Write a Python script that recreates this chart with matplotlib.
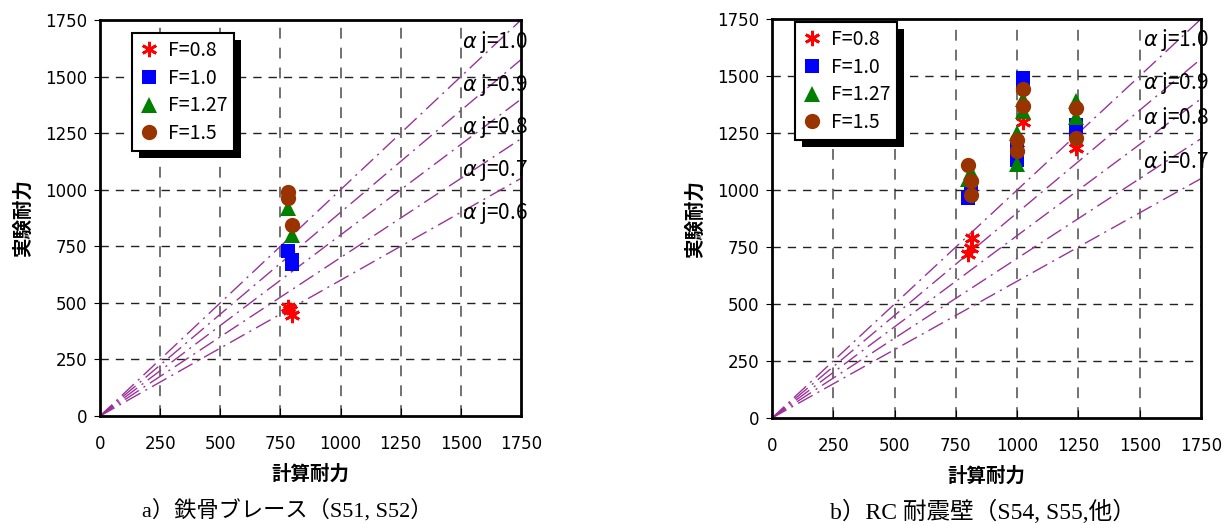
import numpy as np
import matplotlib.pyplot as plt
from matplotlib.patches import Rectangle
from matplotlib.transforms import IdentityTransform

plt.rcParams['font.family'] = ['Noto Sans CJK JP', 'DejaVu Sans']

# series labels / styles
f_labels = ["F=0.8", "F=1.0", "F=1.27", "F=1.5"]

# a) steel brace: (calc, exp) per F
a_x = {
    "F=0.8": [780, 800, 790],
    "F=1.0": [780, 800, 800],
    "F=1.27": [780, 800],
    "F=1.5": [780, 780, 800],
}
a_y = {
    "F=0.8": [480, 445, 470],
    "F=1.0": [730, 670, 690],
    "F=1.27": [920, 800],
    "F=1.5": [990, 965, 845],
}

# b) RC wall
b_x = {
    "F=0.8": [800, 810, 815, 1000, 1025, 1240],
    "F=1.0": [800, 810, 1000, 1000, 1025, 1025, 1240, 1240],
    "F=1.27": [800, 810, 1000, 1000, 1025, 1025, 1240, 1240],
    "F=1.5": [800, 810, 810, 1000, 1000, 1025, 1025, 1240, 1240],
}
b_y = {
    "F=0.8": [720, 745, 790, 1180, 1300, 1185],
    "F=1.0": [965, 990, 1130, 1190, 1490, 1460, 1285, 1260],
    "F=1.27": [1050, 1080, 1115, 1250, 1400, 1345, 1390, 1320],
    "F=1.5": [1110, 1040, 980, 1220, 1170, 1445, 1370, 1360, 1230],
}

alpha_j = [1.0, 0.9, 0.8, 0.7, 0.6]
a_lab_x = 1505
a_lab_y = [1652, 1462, 1276, 1087, 897]
b_lab_x = 1515
b_lab_y = [1658, 1469, 1316, 1123]

ticks = [0, 250, 500, 750, 1000, 1250, 1500, 1750]

styles = {
    "F=0.8": dict(marker=(6, 2, 0), color="red", ms=11, mew=2),
    "F=1.0": dict(marker="s", color="blue", ms=10, mew=0),
    "F=1.27": dict(marker="^", color="green", ms=11, mew=0),
    "F=1.5": dict(marker="o", color="#993300", ms=11, mew=0),
}

fig = plt.figure(figsize=(12.23, 5.24), dpi=100)
ax_a = fig.add_axes([100 / 1223, 108 / 524, 421 / 1223, 396 / 524])
ax_b = fig.add_axes([772 / 1223, 106 / 524, 429 / 1223, 399 / 524])


def draw_panel(ax, xs, ys, lab_x, lab_y):
    t = np.array([0, 1750])
    for aj in alpha_j:
        ax.plot(t, aj * t, color="#993399", lw=1, ls=(0, (12, 4, 1.5, 4)), zorder=2)
    for aj, ly in zip(alpha_j, lab_y):
        ax.text(lab_x, ly, f"$\\alpha$ j={aj:.1f}", fontsize=15, va="center", ha="left",
                clip_on=False, zorder=5)
    for f in f_labels:
        st = styles[f]
        ax.plot(xs[f], ys[f], ls="none", marker=st["marker"], color=st["color"],
                ms=st["ms"], mew=st["mew"], mec=st["color"], label=f, zorder=4)
    ax.set_xlim(0, 1750)
    ax.set_ylim(0, 1750)
    ax.set_xticks(ticks)
    ax.set_yticks(ticks)
    for v in ticks[1:-1]:
        ax.axhline(v, color="#222222", lw=1, ls=(0, (6, 5)), zorder=1)
        ax.axvline(v, color="#666666", lw=1.3, ls=(0, (6, 5)), zorder=1)
    ax.tick_params(axis="x", direction="in", length=6, pad=14, labelsize=12)
    ax.tick_params(axis="y", direction="out", length=4, pad=5, labelsize=12)
    for lab in ax.get_xticklabels() + ax.get_yticklabels():
        lab.set_family(["Liberation Sans Narrow", "DejaVu Sans"])
    for s in ax.spines.values():
        s.set_linewidth(2)
    ax.set_xlabel("計算耐力", fontsize=14, fontweight="bold", labelpad=8)
    ax.set_ylabel("実験耐力", fontsize=14, fontweight="bold", labelpad=9)


draw_panel(ax_a, a_x, a_y, a_lab_x, a_lab_y)
draw_panel(ax_b, b_x, b_y, b_lab_x, b_lab_y)

legs = []
for ax, anchor in [(ax_a, (32 / 421, 1 - 13 / 396)), (ax_b, (23 / 429, 1 - 3 / 399))]:
    leg = ax.legend(loc="upper left", bbox_to_anchor=anchor, frameon=True, fancybox=False,
                    framealpha=1, edgecolor="black", fontsize=14, handlelength=1.0,
                    handletextpad=0.5, borderpad=0.35, labelspacing=0.35, borderaxespad=0)
    leg.get_frame().set_linewidth(1.5)
    leg.set_zorder(10)
    legs.append((ax, leg))

fig.canvas.draw()
for ax, leg in legs:
    bb = leg.get_window_extent()
    off = 7
    ax.add_artist(Rectangle((bb.x0 + off, bb.y0 - off), bb.width, bb.height,
                            transform=IdentityTransform(), facecolor="black",
                            edgecolor="none", zorder=9, clip_on=False))

fig.text(287 / 1223, 1 - 510 / 524, "a）鉄骨ブレース（S51, S52）", ha="center", va="center",
         fontsize=16, family=["Liberation Serif", "Noto Sans CJK JP"])
fig.text(983 / 1223, 1 - 512 / 524, "b）RC 耐震壁（S54, S55,他）", ha="center", va="center",
         fontsize=17, family=["Liberation Serif", "Noto Sans CJK JP"])

fig.savefig("out.png", dpi=100)
